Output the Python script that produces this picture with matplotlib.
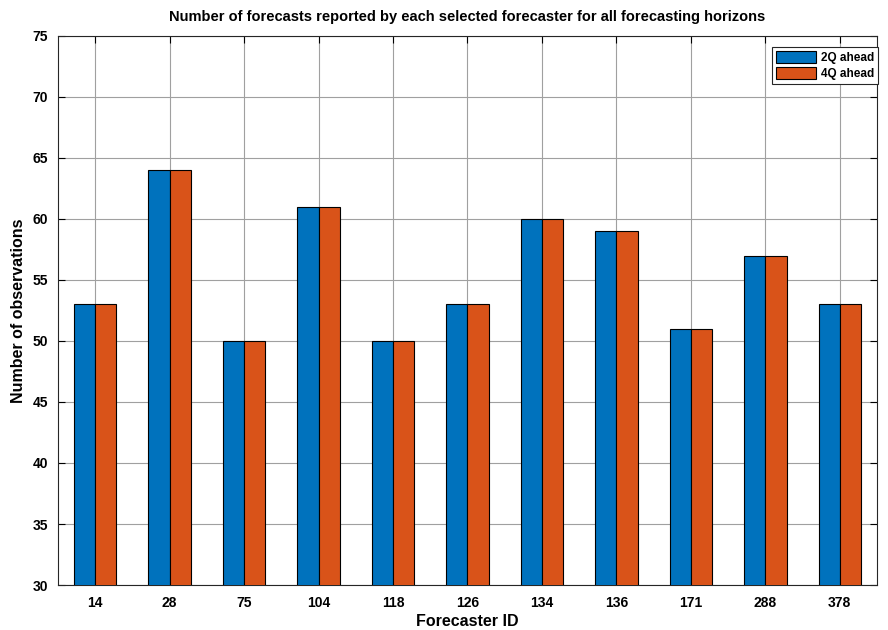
import numpy as np
import matplotlib.pyplot as plt

plt.rcParams['font.family'] = ['Liberation Sans', 'DejaVu Sans']
plt.rcParams['font.weight'] = 'bold'

forecasters = ['14', '28', '75', '104', '118', '126', '134', '136', '171', '288', '378']
ahead_2q = [53, 64, 50, 61, 50, 53, 60, 59, 51, 57, 53]
ahead_4q = [53, 64, 50, 61, 50, 53, 60, 59, 51, 57, 53]

fig = plt.figure(figsize=(8.88, 6.3), dpi=100)
ax = fig.add_axes([0.0653, 0.0714, 0.9223, 0.8716])

x = np.arange(len(forecasters))
w = 0.285
ax.bar(x - w/2, ahead_2q, w, color='#0072BD', edgecolor='black', linewidth=0.8, label='2Q ahead', zorder=3)
ax.bar(x + w/2, ahead_4q, w, color='#D95319', edgecolor='black', linewidth=0.8, label='4Q ahead', zorder=3)

ax.set_xlim(-0.5, len(forecasters) - 0.5)
ax.set_ylim(30, 75)
ax.set_xticks(x)
ax.set_xticklabels(forecasters)
ax.set_yticks(np.arange(30, 76, 5))
ax.tick_params(direction='in', labelsize=10, length=5, top=True, right=True, width=0.8)
ax.tick_params(axis='x', pad=8)
ax.tick_params(axis='y', pad=7)
ax.grid(True, color='#a0a0a0', linewidth=0.8, zorder=0)
for s in ax.spines.values():
    s.set_color('#262626')
    s.set_linewidth(0.8)

ax.set_xlabel('Forecaster ID', fontsize=11.5, fontweight='bold', labelpad=3)
ax.set_ylabel('Number of observations', fontsize=11.5, fontweight='bold', labelpad=5)
ax.set_title('Number of forecasts reported by each selected forecaster for all forecasting horizons',
             fontsize=10.5, fontweight='bold', pad=11)

leg = ax.legend(loc='upper right', bbox_to_anchor=(878/888, 1 - 47/630), bbox_transform=fig.transFigure,
                fontsize=8.5, fancybox=False, framealpha=1, edgecolor='#262626',
                handlelength=3.4, handleheight=1.2, borderpad=0.35, labelspacing=0.25,
                handletextpad=0.4, borderaxespad=0)
leg.get_frame().set_linewidth(0.8)

plt.savefig('out.png', dpi=100)
